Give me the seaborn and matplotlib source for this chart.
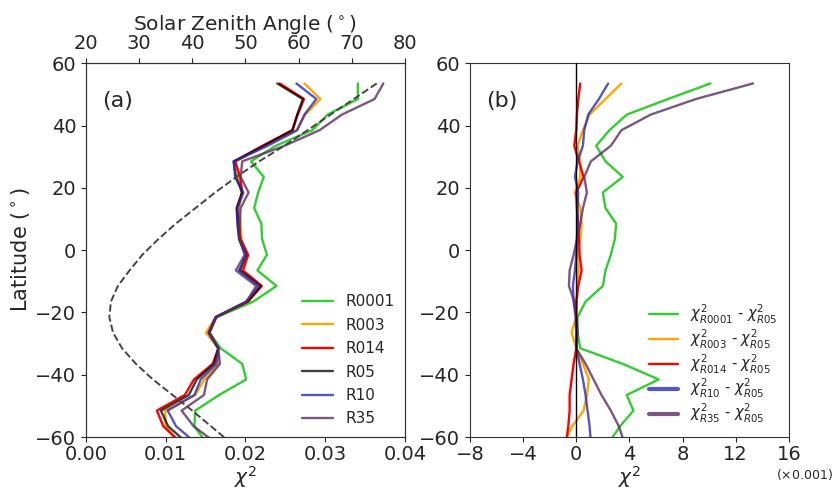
import numpy as np
import matplotlib
matplotlib.use("Agg")
import matplotlib.pyplot as plt
import seaborn as sns

# latitude bins (deg)
lats = [53.5, 48.5, 43.5, 38.5, 33.5, 28.5, 23.5, 18.5, 13.5, 8.5, 3.5, -1.5,
        -6.5, -11.5, -16.5, -21.5, -26.5, -31.5, -36.5, -41.5, -46.5, -51.5, -56.5, -61.5]

# chi^2 of the reference run R05
chi2_R05 = [0.0240, 0.0272, 0.0265, 0.0259, 0.0223, 0.0185, 0.0188, 0.0196, 0.0189, 0.0190,
            0.0192, 0.0201, 0.0193, 0.0219, 0.0203, 0.0163, 0.0154, 0.0166, 0.0161, 0.0139,
            0.0129, 0.0094, 0.0103, 0.0125]

# differences from R05 (x0.001)
d_R0001 = [10.1, 6.9, 3.8, 2.5, 1.5, 2.2, 3.5, 2.0, 2.2, 3.0, 2.9, 2.6, 2.2, 2.0, 0.7, 0.1,
           0.1, 0.3, 3.5, 6.2, 3.8, 4.3, 3.3, 2.5]
d_R003 = [3.4, 2.2, 1.0, 0.5, 0.1, 0.3, 0.3, -0.1, 0.3, 0.4, 0.3, 0.1, 0.15, 0.1, 0.05, 0.0,
          -0.35, 0.0, 0.5, 0.95, 0.8, 0.55, -0.3, -0.9]
d_R014 = [0.3, 0.15, 0.05, 0.0, -0.15, 0.2, 0.55, 0.0, 0.05, 0.15, 0.2, 0.25, 0.4, 0.15, 0.0,
          0.0, 0.05, 0.0, -0.2, -0.35, -0.5, -0.5, -0.6, -0.75]
d_R10 = [2.4, 1.7, 0.9, 0.6, 0.5, 0.1, -0.1, 0.15, 0.1, 0.1, 0.05, 0.0, -0.1, -0.25, -0.2,
         -0.05, 0.0, 0.0, 0.25, 0.5, 0.7, 0.85, 1.0, 1.1]
d_R35 = [13.3, 9.0, 5.6, 3.4, 2.6, 1.1, 0.6, 0.8, 0.5, 0.3, 0.05, -0.2, -0.5, -0.55, -0.15,
         0.0, 0.1, 0.0, 0.7, 1.3, 1.9, 2.6, 3.2, 3.6]

# solar zenith angle (deg) per latitude bin
sza = [74.7, 70.4, 66.0, 61.7, 57.3, 52.6, 48.3, 44.3, 40.6, 36.9, 33.6, 30.6, 28.2, 26.0,
       24.7, 24.4, 25.1, 26.8, 29.4, 32.6, 36.3, 40.0, 43.5, 47.0]

runs = ["R0001", "R003", "R014", "R05", "R10", "R35"]
diffs = {"R0001": d_R0001, "R003": d_R003, "R014": d_R014, "R05": [0.0] * len(lats),
         "R10": d_R10, "R35": d_R35}
colors = {"R0001": "#32cd32", "R003": "orange", "R014": "red", "R05": "#000000",
          "R10": "#2b2bb8", "R35": "#5a2d62"}
alphas = {"R0001": 1.0, "R003": 1.0, "R014": 1.0, "R05": 0.75, "R10": 0.8, "R35": 0.8}
diff_labels = {"R0001": r"$\chi^2_{R0001}$ - $\chi^2_{R05}$",
               "R003": r"$\chi^2_{R003}$ - $\chi^2_{R05}$",
               "R014": r"$\chi^2_{R014}$ - $\chi^2_{R05}$",
               "R10": r"$\chi^2_{R10}$ - $\chi^2_{R05}$",
               "R35": r"$\chi^2_{R35}$ - $\chi^2_{R05}$"}

sns.set_style("ticks")
plt.rcParams["font.family"] = ["DejaVu Sans"]
plt.rcParams["axes.edgecolor"] = "#333333"

fig = plt.figure(figsize=(8.37, 4.9), dpi=100)
ax1 = fig.add_axes([0.1027, 0.108, 0.381, 0.763])
ax2 = fig.add_axes([0.5615, 0.108, 0.381, 0.763])

base = np.array(chi2_R05)
for r in runs:
    vals = base + np.array(diffs[r]) * 0.001
    sns.lineplot(x=vals, y=lats, sort=False, estimator=None, color=colors[r],
                 alpha=alphas[r], lw=1.7, label=r, ax=ax1)

ax1.set_xlim(0, 0.04)
ax1.set_ylim(-60, 60)
ax1.set_xticks([0.0, 0.01, 0.02, 0.03, 0.04])
ax1.set_xticklabels(["0.00", "0.01", "0.02", "0.03", "0.04"])
ax1.set_yticks(range(-60, 61, 20))
ax1.tick_params(labelsize=14)
ax1.tick_params(axis="x", pad=2.5)
ax1.set_xlabel(r"$\chi^2$", fontsize=14.5, labelpad=0)
ax1.set_ylabel(r"Latitude ($^\circ$)", fontsize=15, labelpad=2)
ax1.text(0.05, 0.9, "(a)", transform=ax1.transAxes, fontsize=16, va="center")
ax1.legend(loc="lower right", frameon=False, fontsize=11, handlelength=2.0,
           labelspacing=0.55, borderaxespad=0.3)

top = ax1.twiny()
sns.lineplot(x=sza, y=lats, sort=False, estimator=None, color="#444444", lw=1.4,
             linestyle="--", ax=top, legend=False)
top.set_xlim(20, 80)
top.set_ylim(-60, 60)
top.set_xticks(range(20, 81, 10))
top.set_xlabel(r"Solar Zenith Angle ($^\circ$)", fontsize=14.5, labelpad=3)
top.tick_params(labelsize=14)

for r in ["R0001", "R003", "R014", "R10", "R35"]:
    sns.lineplot(x=diffs[r], y=lats, sort=False, estimator=None, color=colors[r],
                 alpha=alphas[r], lw=1.7, label=diff_labels[r], ax=ax2)
ax2.axvline(0, color="black", lw=1.0, zorder=5)
ax2.set_xlim(-8, 16)
ax2.set_ylim(-60, 60)
ax2.set_xticks(range(-8, 17, 4))
ax2.set_yticks(range(-60, 61, 20))
ax2.tick_params(labelsize=14)
ax2.tick_params(axis="x", pad=2.5)
ax2.set_xlabel(r"$\chi^2$", fontsize=14.5, labelpad=0)
ax2.set_ylabel("")
ax2.text(0.05, 0.9, "(b)", transform=ax2.transAxes, fontsize=16, va="center")
ax2.text(1.05, -0.1, r"($\times$0.001)", transform=ax2.transAxes, fontsize=9,
         ha="center", va="center")
leg = ax2.legend(loc="lower right", frameon=False, fontsize=10.5, handlelength=2.0,
                 labelspacing=0.12, borderaxespad=0.4)
for h in leg.get_lines()[3:]:
    h.set_linewidth(3)

fig.savefig("out.png", dpi=100)
